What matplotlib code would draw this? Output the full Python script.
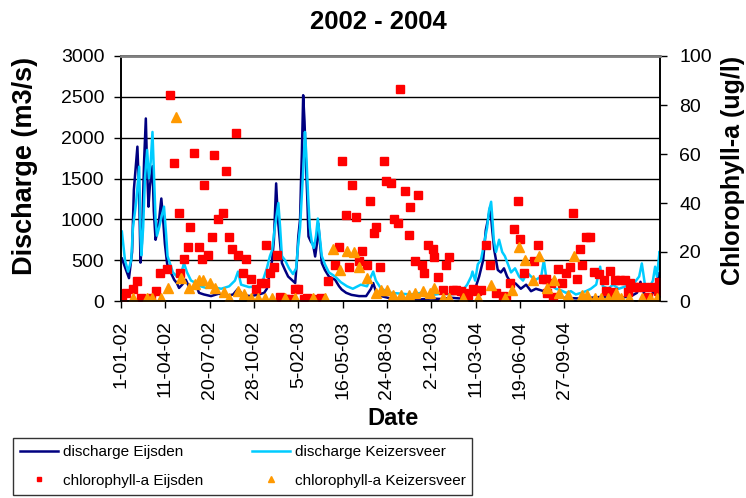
import matplotlib
matplotlib.use('Agg')
import matplotlib.pyplot as plt

plt.rcParams['font.family'] = ['Liberation Sans', 'DejaVu Sans']

# day number counted from 1-01-02 (one tick every 100 days)
tick_days = [0, 100, 200, 300, 400, 500, 600, 700, 800, 900, 1000]
tick_labels = ['1-01-02', '11-04-02', '20-07-02', '28-10-02', '5-02-03', '16-05-03',
               '24-08-03', '2-12-03', '11-03-04', '19-06-04', '27-09-04']

### discharge Eijsden (m3/s)
eijsden_q_day = [2, 18, 25, 29, 37, 41, 44, 47, 52, 56, 59, 62, 65, 71, 74, 78, 82, 86, 91, 95,
                 99, 104, 108, 113, 120, 126, 131, 138, 146, 153, 160, 169, 176, 187, 203, 221,
                 237, 253, 264, 275, 293, 311, 323, 329, 334, 341, 345, 350, 354, 359, 363, 370,
                 377, 385, 393, 397, 400, 404, 406, 408, 411, 414, 417, 420, 423, 429, 433, 438,
                 442, 445, 449, 453, 460, 469, 483, 492, 498, 508, 520, 537, 553, 564, 569, 575,
                 587, 609, 632, 654, 677, 699, 722, 744, 767, 785, 799, 808, 817, 823, 828, 833,
                 837, 842, 850, 857, 864, 871, 880, 890, 902, 914, 925, 936, 948, 959, 970, 984,
                 997, 1015, 1038, 1060, 1083, 1105, 1128, 1151, 1164, 1172, 1175, 1184, 1196,
                 1207, 1213, 1216]
eijsden_q = [520, 280, 600, 1360, 1890, 1300, 470, 700, 1700, 2235, 1600, 1155, 1400, 1650, 1100,
             750, 850, 1000, 1255, 1000, 700, 460, 380, 340, 260, 220, 160, 200, 260, 180, 140,
             200, 100, 80, 60, 90, 60, 80, 150, 70, 60, 80, 100, 150, 300, 500, 750, 1440, 1000,
             700, 465, 380, 300, 260, 220, 500, 790, 1000, 1440, 1800, 2520, 2200, 1725, 1300,
             790, 720, 700, 545, 700, 950, 700, 465, 380, 300, 260, 180, 140, 100, 75, 60, 60,
             150, 220, 120, 60, 30, 25, 30, 20, 30, 25, 40, 30, 60, 150, 300, 500, 870, 1000,
             1155, 900, 625, 380, 350, 400, 300, 220, 215, 150, 200, 120, 150, 130, 110, 90, 60,
             40, 35, 30, 40, 50, 40, 40, 60, 100, 235, 150, 60, 70, 150, 340, 200]

### discharge Keizersveer (m3/s)
keizer_q_day = [2, 9, 16, 23, 27, 34, 41, 44, 46, 50, 54, 59, 63, 67, 71, 74, 78, 81, 86, 90, 97,
                102, 105, 111, 117, 126, 135, 142, 149, 158, 169, 180, 192, 208, 226, 244, 257,
                264, 271, 289, 307, 320, 329, 336, 341, 347, 355, 359, 363, 370, 379, 388, 395,
                399, 404, 408, 412, 415, 418, 422, 426, 431, 435, 440, 444, 448, 453, 460, 469,
                483, 496, 510, 523, 541, 555, 564, 569, 575, 587, 609, 632, 654, 677, 699, 722,
                744, 767, 781, 790, 793, 799, 805, 812, 819, 826, 830, 835, 838, 841, 846, 853,
                860, 866, 873, 880, 889, 898, 907, 916, 925, 936, 948, 954, 959, 970, 981, 993,
                1004, 1015, 1026, 1038, 1049, 1060, 1072, 1081, 1087, 1099, 1110, 1123, 1139,
                1155, 1169, 1175, 1182, 1191, 1200, 1205, 1209, 1215, 1216]
keizer_q = [850, 500, 360, 500, 900, 1200, 1645, 800, 560, 900, 1500, 1850, 1500, 1700, 2070,
            1600, 1000, 800, 900, 1000, 1155, 800, 550, 450, 350, 300, 320, 465, 350, 250, 220,
            180, 160, 170, 150, 180, 250, 360, 200, 170, 180, 250, 400, 550, 625, 900, 1200, 900,
            550, 500, 400, 330, 400, 650, 900, 1300, 1700, 2070, 1800, 1300, 900, 700, 650, 800,
            1010, 800, 550, 450, 350, 300, 230, 180, 150, 200, 180, 300, 360, 250, 150, 100, 90,
            80, 100, 70, 90, 80, 100, 200, 300, 360, 250, 450, 500, 700, 900, 1100, 1215, 1000,
            750, 600, 750, 600, 550, 450, 350, 400, 300, 250, 350, 300, 260, 300, 500, 300, 200,
            150, 130, 100, 120, 80, 100, 120, 150, 200, 420, 180, 150, 200, 150, 180, 200, 300,
            460, 200, 150, 250, 420, 300, 605, 400]

### chlorophyll-a Eijsden (ug/l)
eijsden_chl_day = [3, 11, 26, 35, 46, 68, 80, 88, 103, 111, 120, 130, 134, 143, 152, 156, 165,
                   175, 183, 188, 197, 206, 210, 219, 229, 238, 243, 251, 260, 265, 275, 283,
                   293, 305, 315, 325, 328, 337, 346, 351, 359, 370, 379, 393, 400, 412, 420,
                   435, 451, 468, 482, 491, 499, 508, 514, 521, 530, 536, 544, 554, 562, 571,
                   576, 585, 594, 598, 608, 616, 626, 630, 640, 649, 653, 663, 671, 680, 684,
                   693, 703, 707, 716, 726, 734, 739, 748, 756, 767, 774, 782, 793, 803, 812,
                   824, 833, 846, 861, 869, 878, 887, 896, 901, 910, 932, 941, 951, 959, 962,
                   969, 975, 987, 995, 1004, 1013, 1019, 1028, 1036, 1041, 1049, 1059, 1068,
                   1079, 1090, 1094, 1104, 1109, 1115, 1126, 1138, 1143, 1149, 1157, 1164, 1179,
                   1188, 1198, 1211, 1213]
eijsden_chl = [1.1, 3.3, 4.8, 8.3, 1.2, 1.2, 4.2, 11.5, 12.9, 84.2, 56.2, 35.8, 11.6, 17.0, 21.9,
               30.3, 60.3, 21.9, 17.0, 47.2, 18.8, 26.0, 59.6, 33.3, 35.8, 53.0, 26.0, 21.1, 68.6,
               18.8, 11.6, 17.0, 9.0, 4.8, 7.3, 7.5, 22.9, 11.6, 14.0, 18.8, 1.5, 1.0, 1.0, 4.8,
               4.8, 1.0, 1.2, 1.0, 1.2, 8.3, 14.7, 21.9, 57.1, 35.1, 13.8, 47.3, 34.4, 16.4, 20.5,
               14.7, 40.8, 27.6, 30.3, 13.8, 57.1, 49.0, 48.0, 33.6, 31.8, 86.5, 44.9, 26.9, 38.5,
               16.4, 43.3, 14.6, 11.5, 22.9, 21.1, 17.9, 9.7, 4.5, 14.5, 17.9, 4.5, 4.5, 4.0, 3.3,
               2.5, 5.0, 4.0, 4.5, 22.9, 14.7, 3.3, 2.2, 1.5, 7.4, 29.4, 40.8, 25.2, 11.6, 16.2,
               22.9, 8.8, 8.8, 3.1, 7.5, 1.5, 12.9, 7.4, 11.5, 13.8, 35.9, 8.8, 21.2, 14.7, 26.1,
               26.1, 11.8, 11.0, 8.5, 4.0, 12.4, 3.5, 8.5, 8.5, 8.5, 3.5, 7.2, 5.6, 5.6, 5.6, 1.8,
               5.6, 4.2, 7.9]

### chlorophyll-a Keizersveer (ug/l)
keizer_chl_day = [28, 58, 71, 91, 105, 124, 135, 154, 168, 176, 186, 201, 213, 232, 244, 263,
                  277, 293, 308, 324, 341, 371, 393, 434, 460, 479, 493, 509, 525, 537, 556,
                  576, 587, 599, 614, 632, 649, 664, 682, 696, 707, 726, 741, 772, 805, 835,
                  867, 881, 898, 912, 929, 943, 962, 976, 989, 1008, 1021, 1039, 1052, 1070,
                  1084, 1098, 1112, 1116, 1127, 1146, 1176, 1194, 1210]
keizer_chl = [1.2, 1.2, 1.2, 1.2, 5.2, 75.2, 9.3, 5.2, 6.8, 8.4, 8.5, 7.5, 5.5, 3.5, 1.2, 4.0,
              3.0, 1.2, 1.2, 1.2, 1.2, 1.2, 1.2, 1.2, 1.2, 21.2, 12.7, 20.5, 20.0, 14.0, 9.3,
              3.4, 4.3, 4.3, 2.5, 2.5, 2.5, 3.4, 4.2, 3.4, 5.5, 1.2, 1.2, 1.2, 1.2, 6.5, 1.2,
              4.5, 22.2, 16.7, 8.6, 18.3, 5.2, 8.7, 3.3, 2.4, 18.4, 2.4, 2.4, 1.2, 1.2, 1.2,
              1.2, 3.4, 1.2, 1.2, 1.2, 1.2, 1.2]

fig = plt.figure(figsize=(7.46, 4.98), dpi=100)
ax = fig.add_axes([121 / 746, 1 - 301 / 498, 539 / 746, 245 / 498])

ax.plot(eijsden_q_day, eijsden_q, color='#000080', lw=1.8, label='discharge Eijsden')
ax.plot(keizer_q_day, keizer_q, color='#00CCFF', lw=1.8, label='discharge Keizersveer')
ax.set_xlim(0, 1216)
ax.set_ylim(0, 3000)
ax.set_yticks(range(0, 3001, 500))
ax.set_xticks(tick_days)
ax.set_xticklabels(tick_labels, rotation=90)
ax.grid(axis='y', color='black', lw=1)
ax.set_axisbelow(True)
ax.tick_params(axis='both', direction='out', length=5, width=1, labelsize=14, pad=7)
ax.tick_params(axis='x', pad=9)

ax2 = ax.twinx()
ax2.plot(eijsden_chl_day, eijsden_chl, ls='none', marker='s', ms=6, color='#FF0000',
         label='chlorophyll-a Eijsden')
ax2.plot(keizer_chl_day, keizer_chl, ls='none', marker='^', ms=7, color='#FF9900',
         label='chlorophyll-a Keizersveer')
ax2.set_ylim(0, 100)
ax2.set_yticks(range(0, 101, 20))
ax2.tick_params(axis='y', direction='out', length=5, width=1, labelsize=14, pad=9)

for a in (ax, ax2):
    for s in a.spines.values():
        s.set_color('black')
        s.set_linewidth(1.2)
ax2.spines['top'].set_color('#808080')
ax2.spines['top'].set_linewidth(2)

fig.text(378 / 746, 1 - 22 / 498, '2002 - 2004', ha='center', va='center',
         fontsize=18.5, fontweight='bold')
fig.text(25 / 746, 1 - 166 / 498, 'Discharge (m3/s)', ha='center', va='center',
         rotation=90, fontsize=19.5, fontweight='bold')
fig.text(733 / 746, 1 - 170 / 498, 'Chlorophyll-a (ug/l)', ha='center', va='center',
         rotation=90, fontsize=18, fontweight='bold')
fig.text(393 / 746, 1 - 418 / 498, 'Date', ha='center', va='center',
         fontsize=17, fontweight='bold')

h1, l1 = ax.get_legend_handles_labels()
h2, l2 = ax2.get_legend_handles_labels()
leg = fig.legend([h1[0], h2[0], h1[1], h2[1]], [l1[0], l2[0], l1[1], l2[1]],
                 loc='upper left', bbox_to_anchor=(13 / 746, 1 - 438 / 498), ncol=2,
                 fontsize=11, frameon=True, fancybox=False, borderaxespad=0,
                 handlelength=2.5, handletextpad=0.3, columnspacing=3.2,
                 markerscale=0.6, labelspacing=0.98, borderpad=0.45)
leg.get_frame().set_edgecolor('black')
leg.get_frame().set_linewidth(1)

fig.savefig('out.png', dpi=100)
